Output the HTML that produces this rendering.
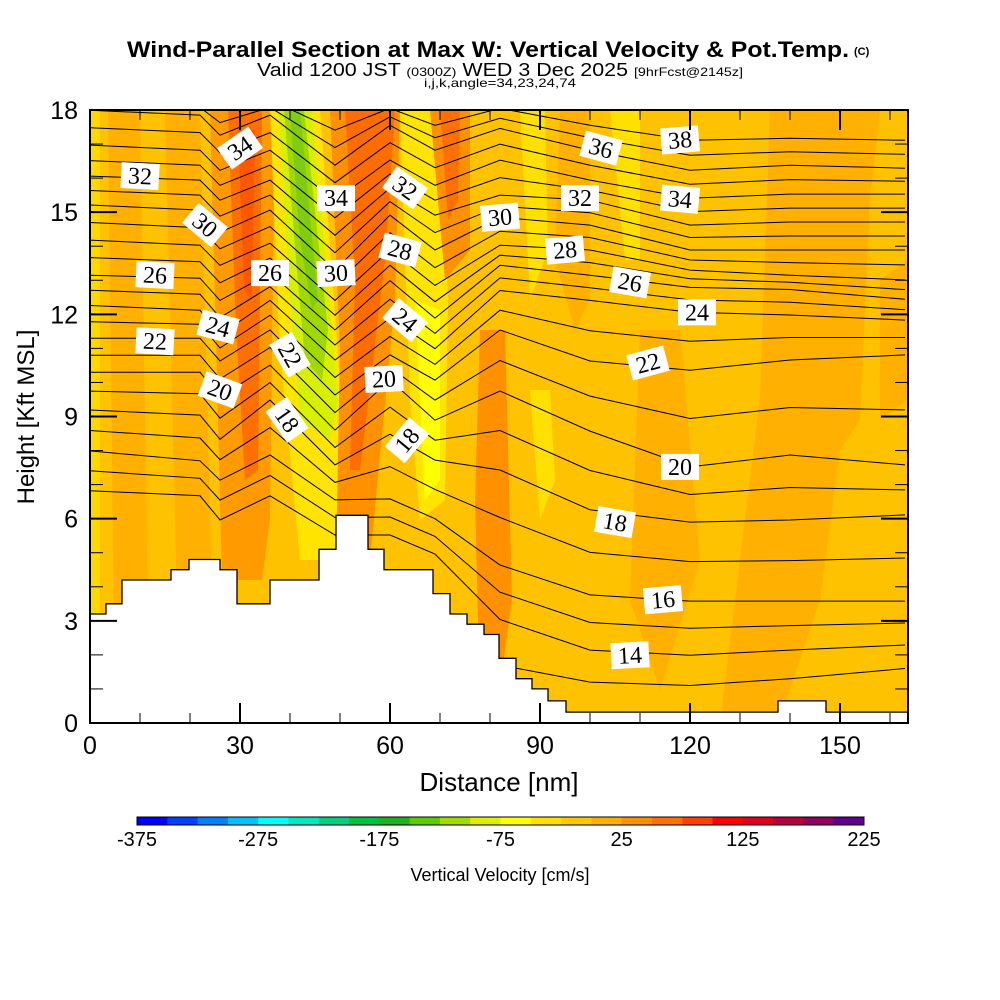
<!DOCTYPE html>
<html><head><meta charset="utf-8"><style>
html,body{margin:0;padding:0;background:#fff;}
svg{display:block;font-family:"Liberation Sans",sans-serif;}
</style></head><body>
<svg id="chart" width="1000" height="1000" viewBox="0 0 1000 1000" xmlns="http://www.w3.org/2000/svg">
<text x="127" y="57" font-size="22" font-weight="bold" textLength="722" lengthAdjust="spacingAndGlyphs">Wind-Parallel Section at Max W: Vertical Velocity &amp; Pot.Temp.</text>
<text x="854" y="55" font-size="11" font-weight="bold">(C)</text>
<text x="257" y="76" font-size="18" textLength="486" lengthAdjust="spacingAndGlyphs">Valid 1200 JST <tspan font-size="12">(0300Z)</tspan> WED 3 Dec 2025 <tspan font-size="12">[9hrFcst@2145z]</tspan></text>
<text x="424" y="87" font-size="12" textLength="152" lengthAdjust="spacingAndGlyphs">i,j,k,angle=34,23,24,74</text>
<defs><clipPath id="plotclip"><rect x="90" y="110" width="818" height="613"/></clipPath></defs>
<g id="field" clip-path="url(#plotclip)">
<rect x="90" y="110" width="818" height="613" fill="#ffc200"/>
<rect x="90" y="110" width="10" height="613" fill="#ffd800"/>
<polygon points="108,110 140,110 150,723 115,723" fill="#ffb000"/>
<polygon points="165,110 200,110 215,723 180,723" fill="#ffb000"/>
<polygon points="210,110 275,110 270,520 262,580 222,580 215,300" fill="#ff9a00"/>
<polygon points="228,110 262,110 258,470 245,480 236,330" fill="#ff7000"/>
<polygon points="238,130 255,130 252,300 244,290" fill="#ff5800"/>
<polygon points="270,110 320,110 345,450 340,560 300,560 280,350" fill="#ffe400"/>
<polygon points="278,110 312,110 338,400 330,440 300,420 290,300" fill="#d8f000"/>
<polygon points="284,110 304,110 328,330 322,380 305,360 296,260" fill="#a0d800"/>
<polygon points="290,110 300,110 318,300 312,310 300,240" fill="#80cc10"/>
<polygon points="330,110 400,110 395,300 370,560 336,560 340,350" fill="#ff9000"/>
<polygon points="345,110 395,110 385,260 360,470 350,470 355,280" fill="#ff6c00"/>
<polygon points="400,110 440,110 448,300 445,500 420,520 410,400" fill="#ffe400"/>
<polygon points="415,300 440,310 440,480 425,500 420,400" fill="#ffff00"/>
<polygon points="430,110 470,110 470,250 445,280" fill="#ff9000"/>
<polygon points="440,110 460,110 458,200 448,220" fill="#ff7000"/>
<polygon points="480,330 505,330 512,600 495,720 480,700 475,500" fill="#ff9000"/>
<polygon points="520,110 545,110 548,250 530,300" fill="#ffe000"/>
<polygon points="560,110 590,110 590,300 575,330 555,260" fill="#ffb000"/>
<polygon points="610,110 640,110 640,260 625,260" fill="#ffe000"/>
<polygon points="530,390 550,390 555,480 540,520" fill="#ffe000"/>
<polygon points="640,330 680,330 700,560 660,690 630,600" fill="#ffb000"/>
<polygon points="770,110 880,110 870,200 860,420 840,450 820,600 780,720 720,723 740,560 760,400" fill="#ffb000"/>
<polygon points="880,280 908,260 908,400 880,420" fill="#ffb000"/>
</g>
<g id="contours" clip-path="url(#plotclip)"></g>
<g id="terrain"></g>
<g id="labels"></g>
<rect x="90" y="110" width="818" height="613" fill="none" stroke="#000" stroke-width="2"/>
<g id="axes"></g>
<text x="499" y="791" font-size="26" text-anchor="middle">Distance [nm]</text>
<text transform="translate(34,417) rotate(-90)" font-size="24" text-anchor="middle">Height [Kft MSL]</text>
<g id="colorbar"></g>
<text x="500" y="881" font-size="18" text-anchor="middle">Vertical Velocity [cm/s]</text>
</svg>
<script>
// ---- data ----
const knotNm = [0, 22, 26, 36, 49, 60, 69, 82, 100, 120, 140, 163];
const levels = [14,16,18,20,22,24,26,28,30,32,34,36,38];
const lev14 = [6.82,6.67,5.96,6.67,5.52,5.52,4.96,3.04,2.14,1.99,2.14,2.29];
const lev16 = [7.99,7.70,7.13,7.87,6.55,6.58,6.00,4.64,3.76,3.58,3.58,3.58];
const lev18 = [9.19,9.04,8.33,9.48,7.58,8.48,7.72,7.43,6.26,5.90,5.96,6.11];
const lev20 = [10.30,10.30,9.57,10.51,8.60,10.07,8.89,9.75,8.57,7.52,7.87,7.58];
const lev22 = [11.30,11.30,10.63,11.54,9.63,10.81,10.07,11.54,10.63,10.36,10.66,10.81];
const lev24 = [12.26,12.12,11.39,12.41,10.66,11.89,10.99,12.70,12.41,12.06,11.98,11.83];
const lev26 = [13.15,13.06,12.41,13.21,11.54,12.99,11.89,13.44,13.15,12.79,12.73,12.44];
const lev28 = [14.18,14.03,13.44,14.09,12.41,13.89,12.85,14.03,13.89,13.30,13.15,13.01];
const lev30 = [15.21,15.06,14.41,15.06,13.30,14.91,13.89,14.85,14.62,13.89,13.89,13.89];
const lev32 = [16.06,15.94,15.35,15.94,14.32,15.71,14.91,15.50,15.35,14.62,14.71,14.71];
const lev34 = [16.97,16.82,16.23,16.82,15.35,16.53,15.79,16.53,15.94,15.41,15.53,15.53];
const lev36 = [17.99,17.85,17.26,17.85,16.38,17.55,16.82,17.46,16.82,16.23,16.38,16.29];
const lev38 = [18.4,18.3,18.0,18.3,17.41,18.05,17.55,18.05,17.55,17.11,17.17,17.11];
const levelHeights = [lev14,lev16,lev18,lev20,lev22,lev24,lev26,lev28,lev30,lev32,lev34,lev36,lev38];
const lowContour = [0,0,0,0,0,0,0,1.7,1.2,1.1,1.3,1.6];
// terrain steps
const terrainEdges = [0,3.2,6.4,16.2,19.8,26,29.4,36,45.8,49.2,55.6,58.8,68.6,72,75.4,78.8,81.8,85.2,88.4,91.6,95.2,137.6,147.2,163.6];
const terrainHeights = [3.2,3.5,4.2,4.5,4.8,4.5,3.5,4.2,5.1,6.1,5.1,4.5,3.8,3.2,2.9,2.6,1.9,1.3,1.0,0.65,0.32,0.65,0.32];
// contour labels: value, nm, kft, angle
const labelVals = ["32","34","30","26","26","34","30","32","28","24","22","24","22","20","18","20","18","30","36","38","32","34","28","26","24","22","20","18","16","14"];
const labelNm = [10,30,23,13,36,49.2,49.2,63,62,63,40,25.6,13,26,39.4,58.8,63.4,82,102.2,118,98,118,95,108,121.4,111.6,118,105,114.6,108];
const labelKft = [16.06,16.88,14.62,13.15,13.21,15.41,13.21,15.71,13.89,11.83,10.81,11.63,11.21,9.78,8.90,10.10,8.30,14.85,16.88,17.12,15.41,15.38,13.89,12.94,12.06,10.57,7.52,5.90,3.62,1.99];
const labelAng = [3,-35,40,3,0,0,-3,35,15,40,60,15,3,20,55,-3,-50,-5,15,-5,0,5,-5,10,0,-15,0,10,-5,-3];
// colorbar
const cbTicks = ["-375","-275","-175","-75","25","125","225"];
const cbValues = [-375,-275,-175,-75,25,125,225];
const cbColors = ["#0000ff","#0040ff","#0080ff","#00c0ff","#00ffff","#00e8c0","#00d080","#00c040","#20b020","#5ccc00","#a0dc00","#dcf000","#ffff00","#ffe000","#ffc800","#ffb000","#ff9000","#ff7000","#ff4000","#ff0000","#e00020","#b80040","#900060","#600090"];
const xTicks = [0,30,60,90,120,150];
const yTicks = [0,3,6,9,12,15,18];

// ---- axis functions ----
const X = nm => 90 + nm * 5;
const Y = k => 723 - k * 34.056;
const NS = "http://www.w3.org/2000/svg";
function mk(tag, attrs, parent){const e=document.createElementNS(NS,tag);for(const k in attrs)e.setAttribute(k,attrs[k]);parent.appendChild(e);return e;}

const cg = document.getElementById('contours');
function drawLine(h){
  const pts = knotNm.map((n,i)=>X(n).toFixed(1)+','+Y(h[i]).toFixed(1)).join(' ');
  const p = mk('polyline',{points:pts,fill:'none',stroke:'#000','stroke-width':'1'},cg);
  
  
}
for(let j=0;j<levelHeights.length;j++){
  drawLine(levelHeights[j]);
  if(j<levelHeights.length-1){
    drawLine(levelHeights[j].map((v,i)=>(v+levelHeights[j+1][i])/2));
  }
}
drawLine(lowContour);

// terrain
const tg = document.getElementById('terrain');
let d = 'M'+X(0)+','+Y(0);
for(let i=0;i<terrainHeights.length;i++){
  d += ' L'+X(terrainEdges[i])+','+Y(terrainHeights[i]).toFixed(1)+' L'+X(terrainEdges[i+1])+','+Y(terrainHeights[i]).toFixed(1);
}
d += ' L'+X(terrainEdges[terrainEdges.length-1])+','+Y(0)+' Z';
const tp = mk('path',{d:d,fill:'#fff',stroke:'#000','stroke-width':'1.3'},tg);



// labels
const lg = document.getElementById('labels');
for(let i=0;i<labelVals.length;i++){
  const g = mk('g',{transform:`translate(${X(labelNm[i])},${Y(labelKft[i])}) rotate(${labelAng[i]})`},lg);
  
  
  mk('rect',{x:-19,y:-13,width:38,height:26,fill:'#fff'},g);
  const t = mk('text',{x:0,y:8,'font-size':'24','text-anchor':'middle','font-family':'"Liberation Serif",serif'},g);
  t.textContent = labelVals[i];
}

// axes
const ag = document.getElementById('axes');
for(let n=0;n<=160;n+=10){
  const major = n%30===0, L = major?20:10;
  mk('line',{x1:X(n),x2:X(n),y1:723,y2:723-L,stroke:'#000','stroke-width':major?2:1},ag);
  mk('line',{x1:X(n),x2:X(n),y1:110,y2:110+L,stroke:'#000','stroke-width':major?2:1},ag);
}
for(let k=0;k<=18;k++){
  const major = k%3===0, L = major?27:13;
  mk('line',{x1:90,x2:90+L,y1:Y(k),y2:Y(k),stroke:'#000','stroke-width':major?2:1},ag);
  mk('line',{x1:908,x2:908-L,y1:Y(k),y2:Y(k),stroke:'#000','stroke-width':major?2:1},ag);
}
xTicks.forEach(v=>{
  const t = mk('text',{x:X(v),y:754,'font-size':'25','text-anchor':'middle'},ag);
  
  
  t.textContent = v;
});
yTicks.forEach(v=>{
  const t = mk('text',{x:78,y:Y(v)+9,'font-size':'25','text-anchor':'end'},ag);
  
  
  t.textContent = v;
});

// colorbar
const cb = document.getElementById('colorbar');
const cbX = v => 137 + (v + 375) / 600 * 727;
cbColors.forEach((c,i)=>{
  const r = mk('rect',{x:cbX(-375+i*25),y:817,width:727/24+0.5,height:8,fill:c},cb);
  
  
});
mk('rect',{x:137,y:817,width:727,height:8,fill:'none',stroke:'#000','stroke-width':'1'},cb);
cbValues.forEach((v,i)=>{
  const t = mk('text',{x:cbX(v),y:846,'font-size':'20','text-anchor':'middle'},cb);
  
  
  t.textContent = cbTicks[i];
});
</script>
</body></html>
